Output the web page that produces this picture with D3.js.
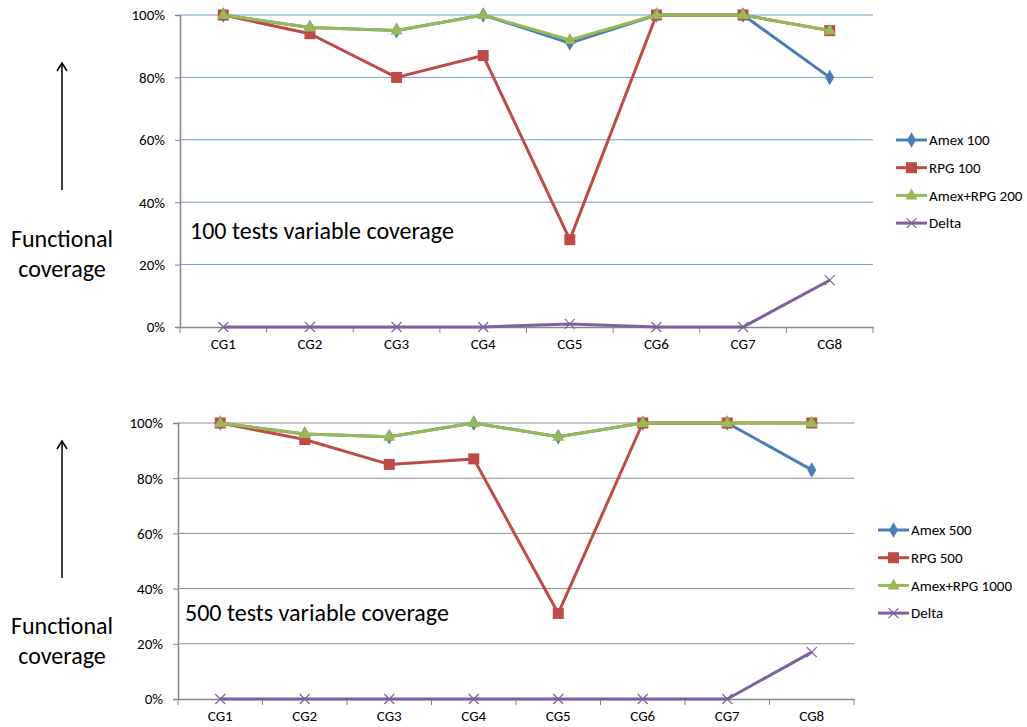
<!DOCTYPE html>
<html>
<head>
<meta charset="utf-8">
<script src="https://cdn.jsdelivr.net/npm/d3@7"></script>
<style>
  body { margin: 0; background: #fff; }
  text { font-family: Carlito, Lato, "Open Sans", sans-serif; fill: #000; }
</style>
</head>
<body>
<svg id="chart" width="1027" height="727"></svg>
<script>
// categories and tick labels
const categories = ["CG1", "CG2", "CG3", "CG4", "CG5", "CG6", "CG7", "CG8"]
const yTicks = [0, 20, 40, 60, 80, 100]

// top chart: 100 tests
const amex100 = [100, 96, 95, 100, 91, 100, 100, 80]
const rpg100 = [100, 94, 80, 87, 28, 100, 100, 95]
const amexRpg200 = [100, 96, 95, 100, 92, 100, 100, 95]
const delta100 = [0, 0, 0, 0, 1, 0, 0, 15]

// bottom chart: 500 tests
const amex500 = [100, 96, 95, 100, 95, 100, 100, 83]
const rpg500 = [100, 94, 85, 87, 31, 100, 100, 100]
const amexRpg1000 = [100, 96, 95, 100, 95, 100, 100, 100]
const delta500 = [0, 0, 0, 0, 0, 0, 0, 17]

const colors = ["#4a7ebb", "#be4b48", "#98b954", "#7d60a0"]
const markers = ["diamond", "square", "triangle", "cross"]

let svg = d3.select("#chart")

drawChart(svg, {
    left: 180, right: 873, top: 15, bottom: 327,
    gridColor: "#6f9bd1",
    series: [["Amex 100", amex100], ["RPG 100", rpg100], ["Amex+RPG 200", amexRpg200], ["Delta", delta100]],
    legendX: 896, legendY: 140,
    note: "100 tests variable coverage", noteX: 190, noteY: 239,
    arrowX: 62, arrowTop: 63, arrowBottom: 190, labelY: 247
})

drawChart(svg, {
    left: 178, right: 854, top: 423, bottom: 699,
    gridColor: "#8c8c8c",
    series: [["Amex 500", amex500], ["RPG 500", rpg500], ["Amex+RPG 1000", amexRpg1000], ["Delta", delta500]],
    legendX: 878, legendY: 530,
    note: "500 tests variable coverage", noteX: 185, noteY: 621,
    arrowX: 62, arrowTop: 441, arrowBottom: 578, labelY: 634
})

// Draw a marker of the given type centred on (cx, cy)
function drawMarker(g, type, cx, cy, color) {
    if (type == "diamond") {
        g.append("path").attr("d", d3.symbol(d3.symbolDiamond, 70)())
            .attr("transform", "translate(" + cx + "," + cy + ")").attr("fill", color)
    } else if (type == "square") {
        g.append("rect").attr("x", cx - 5.5).attr("y", cy - 5.5).attr("width", 11).attr("height", 11)
            .attr("fill", color)
    } else if (type == "triangle") {
        g.append("path").attr("d", "M" + cx + "," + (cy - 7) + "L" + (cx + 6) + "," + (cy + 4) + "L" + (cx - 6) + "," + (cy + 4) + "Z")
            .attr("fill", color)
    } else {
        g.append("path").attr("d", "M" + (cx - 5) + "," + (cy - 5) + "L" + (cx + 5) + "," + (cy + 5) +
            "M" + (cx - 5) + "," + (cy + 5) + "L" + (cx + 5) + "," + (cy - 5))
            .attr("stroke", color).attr("stroke-width", 1.2).attr("fill", "none")
    }
}

function drawChart(svg, c) {
    let g = svg.append("g")

    let x = d3.scaleBand().domain(categories).range([c.left, c.right])
    let y = d3.scaleLinear().domain([0, 100]).range([c.bottom, c.top])

    // gridlines
    g.selectAll(".grid").data(yTicks.filter(d => d > 0)).enter().append("line")
        .attr("x1", c.left).attr("x2", c.right)
        .attr("y1", d => y(d)).attr("y2", d => y(d))
        .attr("stroke", c.gridColor).attr("stroke-width", 1)

    // y axis
    let yAxis = d3.axisLeft(y).tickValues(yTicks).tickSize(5).tickFormat(d => d + "%")
    let ya = g.append("g").attr("transform", "translate(" + c.left + ",0)").call(yAxis)
    ya.select(".domain").attr("stroke", "#868686").attr("stroke-width", 1.5)
    ya.selectAll(".tick line").attr("stroke", "#868686")
    ya.selectAll(".tick text").attr("x", -15).style("font-size", "15px").style("font-family", "Carlito, Lato, sans-serif")

    // x axis with ticks at category boundaries
    let xAxis = d3.axisBottom(x).tickSize(0).tickPadding(11)
    let xa = g.append("g").attr("transform", "translate(0," + c.bottom + ")").call(xAxis)
    xa.select(".domain").attr("stroke", "#868686").attr("stroke-width", 1.5)
    xa.selectAll(".tick text").style("font-size", "15px").style("font-family", "Carlito, Lato, sans-serif")
    let bounds = categories.map(d => x(d)).concat([c.right])
    g.selectAll(".xtick").data(bounds).enter().append("line")
        .attr("x1", d => d).attr("x2", d => d)
        .attr("y1", c.bottom).attr("y2", c.bottom + 6)
        .attr("stroke", "#868686")

    // lines and markers
    let line = d3.line()
        .x((d, i) => x(categories[i]) + x.bandwidth() / 2)
        .y(d => y(d))
    c.series.forEach(function (s, i) {
        g.append("path").datum(s[1])
            .attr("fill", "none")
            .attr("stroke", colors[i])
            .attr("stroke-width", 3)
            .attr("stroke-linejoin", "round")
            .attr("d", line)
        s[1].forEach(function (v, j) {
            drawMarker(g, markers[i], x(categories[j]) + x.bandwidth() / 2, y(v), colors[i])
        })
    })

    // legend
    c.series.forEach(function (s, i) {
        let ly = c.legendY + i * 27.7
        g.append("line").attr("x1", c.legendX).attr("x2", c.legendX + 31)
            .attr("y1", ly).attr("y2", ly)
            .attr("stroke", colors[i]).attr("stroke-width", 3)
        drawMarker(g, markers[i], c.legendX + 15.5, ly, colors[i])
        g.append("text").attr("x", c.legendX + 33).attr("y", ly).attr("dy", "0.35em")
            .style("font-size", "15px").text(s[0])
    })

    // annotation inside the plot
    g.append("text").attr("x", c.noteX).attr("y", c.noteY)
        .style("font-size", "24px").text(c.note)

    // axis caption with arrow on the left
    g.append("line").attr("x1", c.arrowX).attr("x2", c.arrowX)
        .attr("y1", c.arrowBottom).attr("y2", c.arrowTop + 1)
        .attr("stroke", "#000").attr("stroke-width", 1.5)
    g.append("path")
        .attr("d", "M" + (c.arrowX - 5) + "," + (c.arrowTop + 8) + "L" + c.arrowX + "," + c.arrowTop + "L" + (c.arrowX + 5) + "," + (c.arrowTop + 8))
        .attr("fill", "none").attr("stroke", "#000").attr("stroke-width", 1.5)
    g.append("text").attr("x", c.arrowX).attr("y", c.labelY).attr("text-anchor", "middle")
        .style("font-size", "24px").text("Functional")
    g.append("text").attr("x", c.arrowX).attr("y", c.labelY + 30).attr("text-anchor", "middle")
        .style("font-size", "24px").text("coverage")
}
</script>
</body>
</html>
